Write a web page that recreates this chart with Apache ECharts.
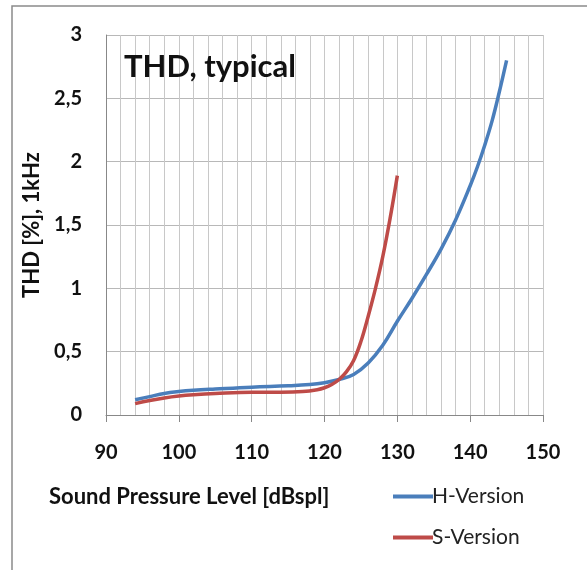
<!DOCTYPE html>
<html><head><meta charset="utf-8">
<script src="https://cdn.jsdelivr.net/npm/echarts@6/dist/echarts.min.js"></script>
<style>html,body{margin:0;padding:0;background:#fff}#c{width:587px;height:570px}</style>
</head><body><div id="c"></div>
<script>
const hX = [94,96,98,100,102,105,110,115,118,120,122,124,126,128,130,132,134,136,138,140,141,142,143,144,145];
const hY = [0.12,0.145,0.17,0.185,0.195,0.205,0.22,0.23,0.24,0.255,0.28,0.32,0.41,0.55,0.74,0.92,1.11,1.31,1.54,1.81,1.96,2.13,2.32,2.55,2.8];
const sX = [94,96,98,100,102,105,110,114,117,119,120,121,122,123,124,125,126,127,128,129,130];
const sY = [0.09,0.115,0.135,0.15,0.16,0.17,0.18,0.18,0.185,0.2,0.215,0.24,0.28,0.34,0.43,0.58,0.78,1.0,1.25,1.55,1.89];
const seriesNames = ['H-Version','S-Version'];
const FONT = 'Lato';
const chart = echarts.init(document.getElementById('c'));
chart.setOption({
  animation:false,
  textStyle:{fontFamily:FONT},
  graphic:[
    {type:'rect',shape:{x:12,y:6,width:620,height:620},style:{fill:'none',stroke:'#8a8a8a',lineWidth:1.5},z:-1},
    {type:'text',left:49,top:486,style:{text:'Sound Pressure Level [dBspl]',font:'bold 22px '+FONT,fill:'#111'}},
    {type:'text',left:124,top:51,style:{text:'THD, typical',font:'bold 31px '+FONT,fill:'#111'},z:10}
  ],
  grid:{left:106,right:44,top:35,bottom:155},
  legend:{orient:'vertical',left:388,top:481,itemWidth:40,itemHeight:4,itemGap:20,icon:'rect',
    textStyle:{fontSize:21,color:'#222',fontFamily:FONT,padding:[0,0,0,-6]},data:seriesNames},
  xAxis:{type:'value',min:90,max:150,interval:10,
    axisLine:{lineStyle:{color:'#888',width:1}},
    axisTick:{show:true,length:7,lineStyle:{color:'#888'}},
    axisLabel:{fontSize:20,fontWeight:'bold',color:'#111',margin:28},
    splitLine:{show:true,lineStyle:{color:'#c8c8c8',width:1}},
    minorTick:{show:false,splitNumber:5},
    minorSplitLine:{show:true,lineStyle:{color:'#c8c8c8',width:1}}},
  yAxis:{type:'value',min:0,max:3,interval:0.5,
    name:'THD [%], 1kHz',nameLocation:'middle',nameGap:62,
    nameTextStyle:{fontSize:22,fontWeight:'bold',color:'#111'},
    axisLine:{show:true,lineStyle:{color:'#888'}},
    axisTick:{show:false},
    axisLabel:{fontSize:20,fontWeight:'bold',color:'#111',margin:24,formatter:v=>String(v).replace('.',',')},
    splitLine:{show:true,lineStyle:{color:'#b8b8b8',width:1}}},
  series:[
    {name:seriesNames[0],type:'line',smooth:0.4,showSymbol:false,symbol:'none',
     lineStyle:{color:'#4a7ebb',width:3.5},itemStyle:{color:'#4a7ebb'},
     data:hX.map((x,i)=>[x,hY[i]])},
    {name:seriesNames[1],type:'line',smooth:0.4,showSymbol:false,symbol:'none',
     lineStyle:{color:'#be4b48',width:3.5},itemStyle:{color:'#be4b48'},
     data:sX.map((x,i)=>[x,sY[i]])}
  ]
});
</script></body></html>
